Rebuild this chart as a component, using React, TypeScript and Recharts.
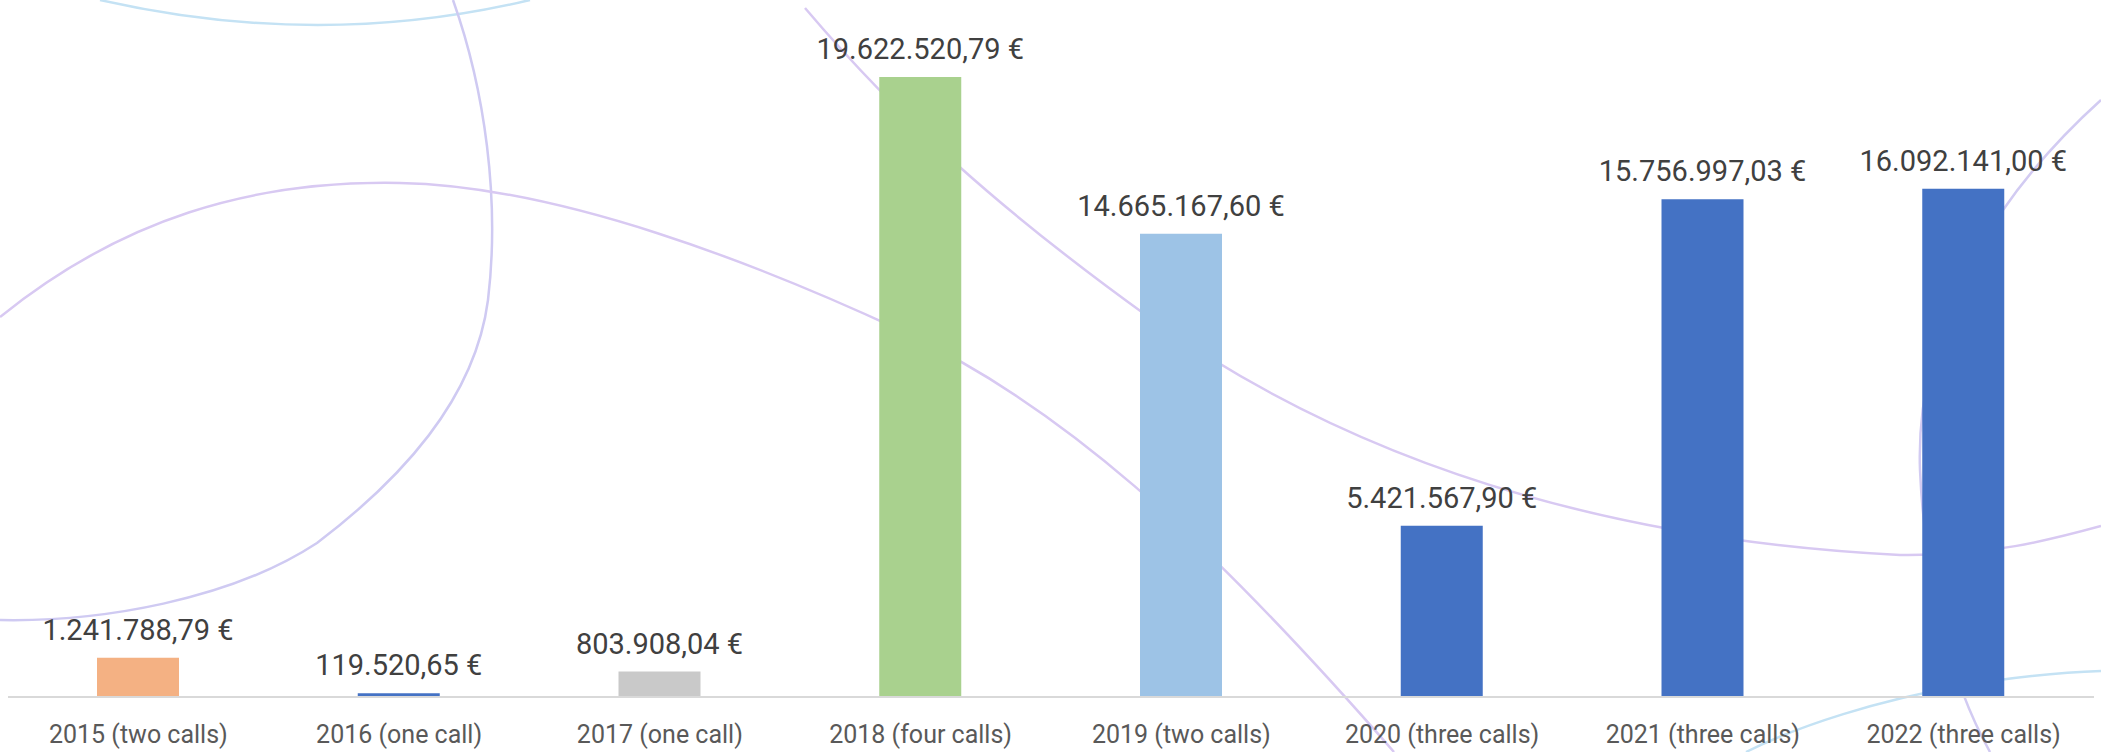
import { Bar, BarChart, Cell, LabelList, XAxis, YAxis } from "recharts";

const categories = [
  "2015 (two calls)",
  "2016 (one call)",
  "2017 (one call)",
  "2018 (four calls)",
  "2019 (two calls)",
  "2020 (three calls)",
  "2021 (three calls)",
  "2022 (three calls)",
];
const amounts = [
  1241788.79, 119520.65, 803908.04, 19622520.79, 14665167.6, 5421567.9, 15756997.03, 16092141.0,
];
const barColors = ["#f4b183", "#4472c4", "#c9c9c9", "#a9d18e", "#9dc3e6", "#4472c4", "#4472c4", "#4472c4"];

const data = categories.map((name, i) => ({ name, value: amounts[i] }));

// non-breaking space keeps the label on one line
const euro = (v: number) =>
  v.toLocaleString("de-DE", { minimumFractionDigits: 2, maximumFractionDigits: 2 }) + "\u00a0€";

// faint slide-background swooshes behind the chart
function Backdrop() {
  const lilac = "#d8c9f2";
  const sky = "#c4e2f4";
  return (
    <svg width={2101} height={752} style={{ position: "absolute", left: 0, top: 0 }}>
      <g fill="none" strokeWidth={2.5}>
        <path d="M 100 0 Q 320 50 530 0" stroke={sky} />
        <path d="M 453 0 C 485 90, 500 200, 488 300 C 475 400, 400 480, 317 543 C 230 600, 100 622, 0 620" stroke="#cfcaf2" />
        <path d="M 0 317 C 120 220, 250 180, 400 183 C 560 186, 760 265, 900 330 C 1060 405, 1200 530, 1394 752" stroke={lilac} />
        <path d="M 805 8 C 900 120, 1000 210, 1150 318 C 1350 460, 1600 540, 1900 555 C 1990 556, 2050 540, 2101 526" stroke={lilac} />
        <path d="M 2101 100 C 1990 200, 1915 330, 1920 470 C 1925 580, 1950 680, 1990 752" stroke="#d2cbf2" />
        <path d="M 1746 752 C 1800 725, 1880 700, 1960 686 C 2020 676, 2070 672, 2101 671" stroke={sky} />
      </g>
    </svg>
  );
}

export default function App() {
  return (
    <div style={{ position: "absolute", left: 0, top: 0, width: 2101, height: 752, background: "#fff" }}>
      <Backdrop />
      <div style={{ position: "absolute", left: 0, top: 0 }}>
        <BarChart
          width={2101}
          height={752}
          data={data}
          margin={{ top: 2, right: 7, bottom: 0, left: 8 }}
          style={{ fontFamily: "Roboto, sans-serif" }}
        >
          <YAxis hide domain={[0, 22000000]} />
          <XAxis
            dataKey="name"
            height={55}
            tickSize={0}
            tickMargin={28}
            axisLine={{ stroke: "#d9d9d9", strokeWidth: 2 }}
            tick={{ fill: "#595959", fontSize: 25 }}
            interval={0}
          />
          <Bar dataKey="value" barSize={82} isAnimationActive={false}>
            {data.map((d, i) => (
              <Cell key={d.name} fill={barColors[i]} />
            ))}
            <LabelList
              dataKey="value"
              position="top"
              offset={18}
              formatter={(v: number) => euro(v)}
              style={{ fill: "#404040", fontSize: 29 }}
            />
          </Bar>
        </BarChart>
      </div>
    </div>
  );
}
